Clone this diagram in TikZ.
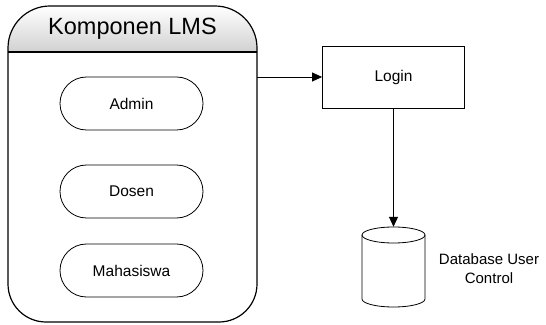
\documentclass[tikz,border=0pt]{standalone}
\usepackage{fontspec}
\setmainfont{Liberation Sans}
\usetikzlibrary{arrows.meta}
\begin{document}
\begin{tikzpicture}[x=1pt,y=1pt,
  pill/.style={draw, line width=0.8pt, rounded corners=26.5pt, minimum width=143pt, minimum height=53pt, inner sep=0pt, font=\fontsize{15.5}{19}\selectfont},
  loginbox/.style={draw, line width=0.8pt, minimum width=142pt, minimum height=62pt, inner sep=0pt, font=\fontsize{15.5}{19}\selectfont},
  conn/.style={line width=0.8pt, -{Triangle[length=10pt,width=9pt]}},
  lbl/.style={align=center, font=\fontsize{15}{19}\selectfont, inner sep=0pt}
]
\useasboundingbox (0,0) rectangle (546,324);
% container header shading
\shade[top color=white, bottom color=black!18] (8,272) -- (8,276) arc[start angle=180,end angle=90,radius=42] -- (215,318) arc[start angle=90,end angle=0,radius=42] -- (257,272) -- cycle;
% container outline
\draw[line width=1.2pt] (8,276) arc[start angle=180,end angle=90,radius=42] -- (215,318) arc[start angle=90,end angle=0,radius=42] -- (257,40) arc[start angle=0,end angle=-90,radius=38] -- (46,2) arc[start angle=270,end angle=180,radius=38] -- cycle;
\draw[line width=1.2pt] (8,272) -- (257,272);
\node[minimum width=249pt, minimum height=316pt, inner sep=0pt] (lms) at (132.5,160) {};
\node[font=\fontsize{23.5}{28}\selectfont, inner sep=0pt] (title) at (132.5,295) {Komponen LMS};
% actors
\node[pill] (admin) at (131.5,220.5) {Admin};
\node[pill] (dosen) at (131.5,132.5) {Dosen};
\node[pill] (mhs) at (131.5,53.5) {Mahasiswa};
% login
\node[loginbox] (login) at (393.5,247) {Login};
% database cylinder
\node[minimum width=63pt, minimum height=80pt, inner sep=0pt] (db) at (393.5,57) {};
\draw[line width=0.8pt, fill=white] (393.5,89) ellipse [x radius=31.5pt, y radius=8pt];
\draw[line width=0.8pt] (362,89) -- (362,25) arc[start angle=180,end angle=360,x radius=31.5pt,y radius=8pt] -- (425,89);
\node[lbl] (dblabel) at (489,55) {Database User\\Control};
% connectors
\draw[conn] (lms.east |- login.west) -- (login.west);
\draw[conn] (login.south) -- (db.north);
\end{tikzpicture}
\end{document}
